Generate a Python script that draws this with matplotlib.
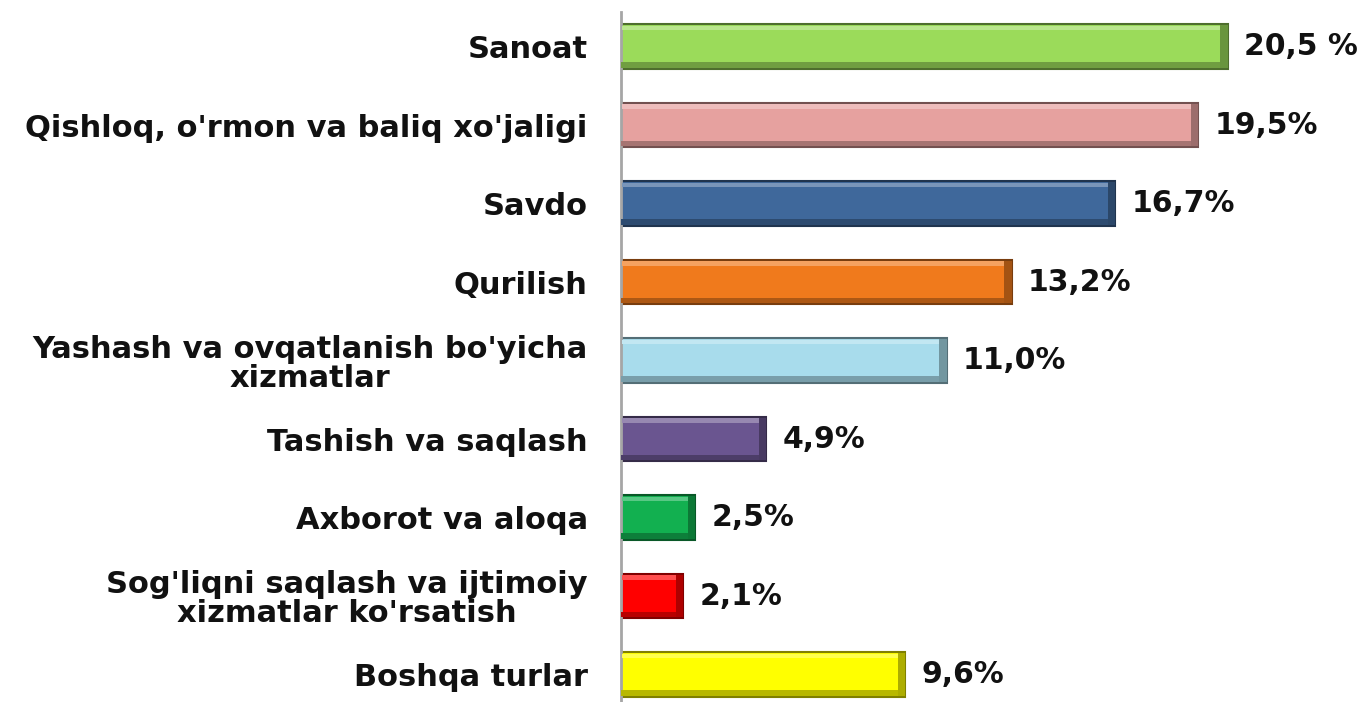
import matplotlib.pyplot as plt
import matplotlib.colors as mcolors
import numpy as np

# ma'lumotlar
categories = ["Sanoat",
              "Qishloq, o'rmon va baliq xo'jaligi",
              "Savdo",
              "Qurilish",
              "Yashash va ovqatlanish bo'yicha\nxizmatlar",
              "Tashish va saqlash",
              "Axborot va aloqa",
              "Sog'liqni saqlash va ijtimoiy\nxizmatlar ko'rsatish",
              "Boshqa turlar"]
values = [20.5, 19.5, 16.7, 13.2, 11.0, 4.9, 2.5, 2.1, 9.6]
value_labels = ["20,5 %", "19,5%", "16,7%", "13,2%", "11,0%",
                "4,9%", "2,5%", "2,1%", "9,6%"]
colors = ["#9BDB5A", "#E6A19F", "#3F689B", "#F07A1C", "#A8DCEC",
          "#6A5590", "#12B050", "#FF0000", "#FFFF00"]

plt.rcParams['font.family'] = ['DejaVu Sans']

fig = plt.figure(figsize=(13.62, 7.02), dpi=100)
ax = fig.add_axes([621 / 1362, 0, 1 - 621 / 1362, 690 / 702])

y = np.arange(len(values))
h = 0.57

def shade(c, f):
    r, g, b = mcolors.to_rgb(c)
    if f < 1:
        return (r * f, g * f, b * f)
    return (r + (1 - r) * (f - 1), g + (1 - g) * (f - 1), b + (1 - b) * (f - 1))

# bazaviy ustunlar
ax.barh(y, values, height=h, color=colors,
        edgecolor=[shade(c, 0.5) for c in colors], linewidth=1.5, zorder=2)
# yuqori yorug' qirra
ax.barh(y - h / 2 + 0.05, [v - 0.3 for v in values], left=0.05, height=0.06,
        color=[shade(c, 1.3) for c in colors], linewidth=0, zorder=3)
# pastki va o'ng soya
ax.barh(y + h / 2 - 0.05, [v - 0.05 for v in values], height=0.07,
        color=[shade(c, 0.72) for c in colors], linewidth=0, zorder=3)
ax.barh(y, [0.25] * len(values), left=[v - 0.25 for v in values], height=h - 0.03,
        color=[shade(c, 0.68) for c in colors], linewidth=0, zorder=3)

for yi, v, lab in zip(y, values, value_labels):
    ax.text(v + 0.55, yi, lab, va='center', ha='left', fontsize=21.5,
            fontweight='bold', color='#111111')

ax.set_yticks(y)
ax.set_yticklabels(categories, fontsize=22, fontweight='bold',
                   multialignment='center', color='#111111', linespacing=1.0)
ax.tick_params(axis='y', length=0, pad=24)
ax.set_xlim(0, 25.03)
ax.set_ylim(8.35, -0.44)
ax.set_xticks([])
for s in ['top', 'right', 'bottom']:
    ax.spines[s].set_visible(False)
ax.spines['left'].set_color('#A6A6A6')
ax.spines['left'].set_linewidth(2)

fig.savefig('out.png', dpi=100)
